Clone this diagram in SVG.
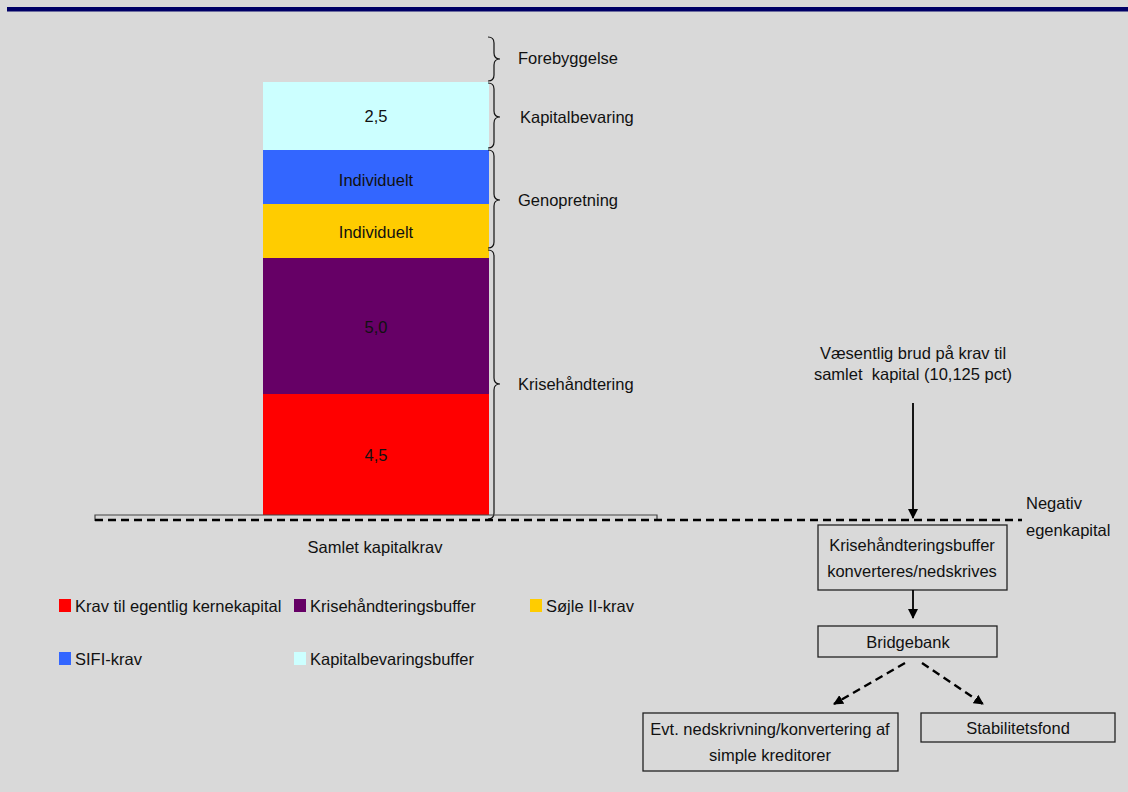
<svg xmlns="http://www.w3.org/2000/svg" width="1128" height="792" viewBox="0 0 1128 792">
<style>
text{font-family:"Liberation Sans",Arial,sans-serif;font-size:16.5px;fill:#111}
.c{text-anchor:middle}
.box{fill:none;stroke:#222;stroke-width:1.3}
.brace{fill:none;stroke:#111;stroke-width:1.2}
.dash{fill:none;stroke:#000;stroke-width:2.4;stroke-dasharray:8 5}
.solid{fill:none;stroke:#000;stroke-width:1.8}
</style>
<defs>
<marker id="ah" markerWidth="10" markerHeight="10" refX="9" refY="5" orient="auto" markerUnits="userSpaceOnUse">
<path d="M0,0 L10,5 L0,10 z" fill="#000"/>
</marker>
</defs>
<rect width="1128" height="792" fill="#d9d9d9"/>
<rect x="7" y="7" width="1121" height="4.5" fill="#000066"/>

<g id="bar">
<rect x="263" y="82" width="226" height="68" fill="#ccffff"/>
<rect x="263" y="150" width="226" height="54" fill="#3366ff"/>
<rect x="263" y="204" width="226" height="54" fill="#ffcc00"/>
<rect x="263" y="258" width="226" height="136" fill="#660066"/>
<rect x="263" y="394" width="226" height="121" fill="#ff0000"/>
<text class="c" x="376" y="122">2,5</text>
<text class="c" x="376" y="186">Individuelt</text>
<text class="c" x="376" y="238">Individuelt</text>
<text class="c" x="376" y="333">5,0</text>
<text class="c" x="376" y="461">4,5</text>
</g>

<g id="braces">
<path class="brace" d="M488,37 q6,0 6,6 v10 q0,6 6,6 q-6,0 -6,6 v10 q0,6 -6,6"/>
<path class="brace" d="M488,83 q6,0 6,6 v22 q0,6 6,6 q-6,0 -6,6 v19 q0,6 -6,6"/>
<path class="brace" d="M488,150 q6,0 6,6 v38 q0,6 6,6 q-6,0 -6,6 v36 q0,6 -6,6"/>
<path class="brace" d="M488,250 q6,0 6,6 v122 q0,6 6,6 q-6,0 -6,6 v123 q0,6 -6,6"/>
<text x="518" y="64">Forebyggelse</text>
<text x="520" y="123">Kapitalbevaring</text>
<text x="518" y="206">Genopretning</text>
<text x="518" y="390">Krisehåndtering</text>
</g>

<g id="baseline">
<path d="M95,521 V515 H657 V521" fill="none" stroke="#444" stroke-width="1.2"/>
<text class="c" x="375" y="553">Samlet kapitalkrav</text>
</g>

<g id="legend">
<rect x="59" y="599" width="12" height="13" fill="#ff0000"/>
<text x="75" y="612">Krav til egentlig kernekapital</text>
<rect x="294" y="599" width="12" height="13" fill="#660066"/>
<text x="310" y="612">Krisehåndteringsbuffer</text>
<rect x="530" y="599" width="12" height="13" fill="#ffcc00"/>
<text x="546" y="612">Søjle II-krav</text>
<rect x="59" y="652" width="12" height="13" fill="#3366ff"/>
<text x="75" y="665">SIFI-krav</text>
<rect x="294" y="652" width="12" height="13" fill="#ccffff"/>
<text x="310" y="665">Kapitalbevaringsbuffer</text>
</g>

<g id="trigger">
<text class="c" x="913" y="359">Væsentlig brud på krav til</text>
<text class="c" x="913" y="380" xml:space="preserve">samlet  kapital (10,125 pct)</text>
</g>

<g id="negativ">
<text x="1026" y="509">Negativ</text>
<text x="1026" y="536">egenkapital</text>
</g>

<g id="box-krise">
<rect class="box" x="818" y="525" width="189" height="65"/>
<text class="c" x="912" y="551">Krisehåndteringsbuffer</text>
<text class="c" x="912" y="577">konverteres/nedskrives</text>
</g>

<g id="box-bridge">
<rect class="box" x="818" y="626" width="179" height="31"/>
<text class="c" x="908" y="648">Bridgebank</text>
</g>

<g id="box-evt">
<rect class="box" x="643" y="713" width="255" height="58"/>
<text class="c" x="770" y="735">Evt. nedskrivning/konvertering af</text>
<text class="c" x="770" y="761">simple kreditorer</text>
</g>

<g id="box-stab">
<rect class="box" x="921" y="713" width="194" height="29"/>
<text class="c" x="1018" y="734">Stabilitetsfond</text>
</g>

<g id="connectors">
<path class="dash" d="M95,520 H1022"/>
<path class="solid" d="M913,403 V518" marker-end="url(#ah)"/>
<path class="solid" d="M913,590 V618" marker-end="url(#ah)"/>
<path class="dash" d="M905,663 L834,704" stroke-width="2" stroke-dasharray="7 5" marker-end="url(#ah)"/>
<path class="dash" d="M922,663 L983,704" stroke-width="2" stroke-dasharray="7 5" marker-end="url(#ah)"/>
</g>
</svg>
